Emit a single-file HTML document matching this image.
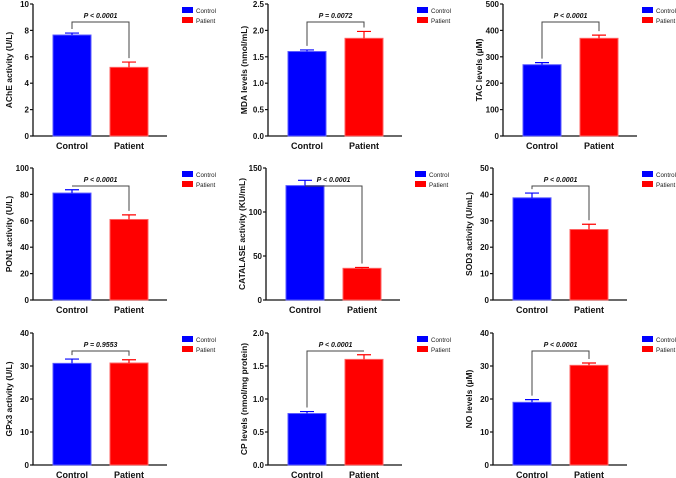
<!DOCTYPE html>
<html><head><meta charset="utf-8"><style>
html,body{margin:0;padding:0;background:#fff;}
svg{display:block;font-family:"Liberation Sans",Arial,sans-serif;}
</style></head><body>
<svg id="fig" width="676" height="478" viewBox="0 0 676 478"></svg>
<script>
const panelNames = ["ache","mda","tac","pon1","catalase","sod3","gpx3","cp","no"];
const yTitles = ["AChE activity (U/L)","MDA levels (nmol/mL)","TAC levels (µM)","PON1 activity (U/L)","CATALASE activity (KU/mL)","SOD3 activity (U/mL)","GPx3 activity (U/L)","CP levels (nmol/mg protein)","NO levels (µM)"];
const categories = ["Control","Patient"];
const controlMeans = [7.65,1.6,270,81,130,38.7,30.8,0.78,19];
const patientMeans = [5.2,1.85,370,61,36,26.7,30.9,1.6,30.2];
const controlErr = [0.15,0.03,8,2.5,6,1.8,1.3,0.03,0.8];
const patientErr = [0.4,0.13,12,3.5,1,2,1,0.07,0.7];
const yMax = [10,2.5,500,100,150,50,40,2,40];
const yStep = [2,0.5,100,20,50,10,10,0.5,10];
const tickDecimals = [0,1,0,0,0,0,0,1,0];
const pLabels = ["P < 0.0001","P = 0.0072","P < 0.0001","P < 0.0001","P < 0.0001","P < 0.0001","P = 0.9553","P < 0.0001","P < 0.0001"];

const axisX = [33,268,503,33,266,493,33,268,493];
const rowTop = [4,168,333];
const legendX = [182,417,642,182,415,642,182,417,642];
const plotH = 132;
const colors = ["#0000ff","#ff0000"];
const stroke = ["#5a5aff","#ff6060"];
const NS = "http://www.w3.org/2000/svg";
const svg = document.getElementById("fig");
function mk(tag, attrs, parent, text){
  const e = document.createElementNS(NS, tag);
  for (const k in attrs) e.setAttribute(k, attrs[k]);
  if (text !== undefined) e.textContent = text;
  (parent||svg).appendChild(e);
  return e;
}
panelNames.forEach((nm, i) => {
  const row = Math.floor(i/3);
  const top = rowTop[row], bot = top + plotH, ax = axisX[i];
  const y = v => bot - v / yMax[i] * plotH;
  const g = mk("g", {});
  
  
  const tt = mk("text", {x:0,y:0,transform:`translate(${ax-21},${top+plotH/2}) rotate(-90)`,"text-anchor":"middle","font-size":"8.5","font-weight":"bold",fill:"#111"}, g, yTitles[i]);
  
  
  const axl = mk("path", {d:`M${ax} ${top}V${bot}H${ax+134}`, stroke:"#111","stroke-width":"1.3",fill:"none"}, g);
  
  
  for (let v = 0; v <= yMax[i] + 1e-9; v += yStep[i]) {
    const yy = y(v);
    mk("line", {x1:ax-3,x2:ax,y1:yy,y2:yy,stroke:"#111","stroke-width":"1.2"}, g);
    const tl = mk("text", {x:ax-4,y:yy+3,"text-anchor":"end","font-size":"8","font-weight":"bold",fill:"#111"}, g, v.toFixed(tickDecimals[i]));
    
    
  }
  const means = [controlMeans[i], patientMeans[i]];
  const errs = [controlErr[i], patientErr[i]];
  const bx = [ax+20, ax+77];
  const errTops = [];
  means.forEach((m, j) => {
    const r = mk("rect", {x:bx[j], y:y(m), width:38, height:bot-y(m), fill:colors[j], stroke:stroke[j], "stroke-width":"1"}, g);
    
    
    const et = y(m + errs[j]); errTops.push(et);
    const cx = bx[j] + 19;
    const eb = mk("path", {d:`M${cx} ${y(m)}V${et}M${cx-7} ${et}H${cx+7}`, stroke:colors[j], "stroke-width":"1.2", fill:"none"}, g);
    
    
    const cl = mk("text", {x:cx, y:bot+13, "text-anchor":"middle","font-size":"9","font-weight":"bold",fill:"#111"}, g, categories[j]);
    
    
  });
  const by = top + 18;
  const c1 = bx[0]+19, c2 = bx[1]+19;
  const br = mk("path", {d:`M${c1} ${Math.max(by,errTops[0]-4)}V${by}H${c2}V${Math.max(by,errTops[1]-4)}`, stroke:"#444","stroke-width":"1",fill:"none"}, g);
  
  
  const pl = mk("text", {x:(c1+c2)/2, y:by-4, "text-anchor":"middle","font-size":"7","font-weight":"bold","font-style":"italic",fill:"#111"}, g, pLabels[i]);
  
  
  categories.forEach((c, j) => {
    const ly = top + 3 + j*10;
    const lg = mk("g", {}, g);
    
    
    mk("rect", {x:legendX[i], y:ly, width:11, height:6, fill:colors[j]}, lg);
    mk("text", {x:legendX[i]+14, y:ly+6, "font-size":"6.2", fill:"#222"}, lg, c);
  });
});
</script>
</body></html>
